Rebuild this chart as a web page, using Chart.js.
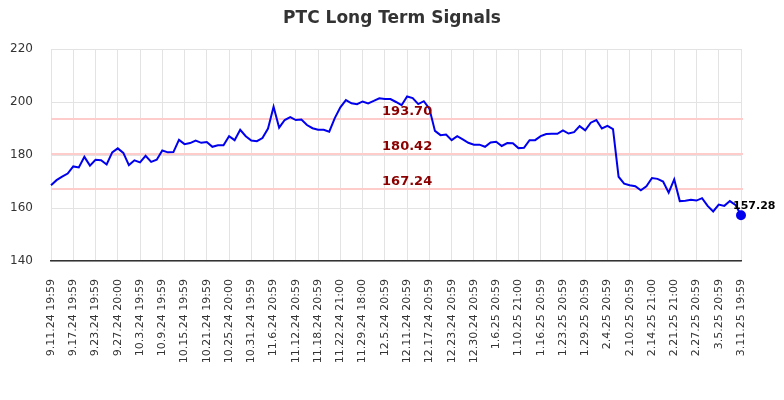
<!DOCTYPE html>
<html>
<head>
<meta charset="utf-8">
<script src="https://cdn.jsdelivr.net/npm/chart.js@4.4.1/dist/chart.umd.min.js"></script>
<style>
  html, body { margin:0; padding:0; background:#fff; }
  #wrap { width:784px; height:400px; }
</style>
</head>
<body>
<div id="wrap"><canvas id="chart" width="784" height="400"></canvas></div>
<script>
const dates = [
  '9.11.24 19:59','9.12.24 19:59','9.13.24 19:59','9.16.24 19:59','9.17.24 19:59','9.18.24 19:59','9.19.24 19:59','9.20.24 19:59',
  '9.23.24 19:59','9.24.24 19:59','9.25.24 19:59','9.26.24 19:59','9.27.24 20:00','9.30.24 19:59',
  '10.1.24 19:59','10.2.24 19:59','10.3.24 19:59','10.4.24 19:59','10.7.24 19:59','10.8.24 19:59','10.9.24 19:59','10.10.24 19:59',
  '10.11.24 19:59','10.14.24 19:59','10.15.24 19:59','10.16.24 19:59','10.17.24 19:59','10.18.24 19:59','10.21.24 19:59','10.22.24 19:59',
  '10.23.24 19:59','10.24.24 19:59','10.25.24 20:00','10.28.24 19:59','10.29.24 19:59','10.30.24 19:59','10.31.24 19:59',
  '11.1.24 19:59','11.4.24 20:59','11.5.24 20:59','11.6.24 20:59','11.7.24 20:59','11.8.24 20:59','11.11.24 20:59','11.12.24 20:59',
  '11.13.24 20:59','11.14.24 20:59','11.15.24 20:59','11.18.24 20:59','11.19.24 20:59','11.20.24 20:59','11.21.24 20:59','11.22.24 21:00',
  '11.25.24 20:59','11.26.24 20:59','11.27.24 20:59','11.29.24 18:00',
  '12.2.24 20:59','12.3.24 20:59','12.4.24 20:59','12.5.24 20:59','12.6.24 20:59','12.9.24 20:59','12.10.24 20:59','12.11.24 20:59',
  '12.12.24 20:59','12.13.24 20:59','12.16.24 20:59','12.17.24 20:59','12.18.24 20:59','12.19.24 20:59','12.20.24 20:59','12.23.24 20:59',
  '12.24.24 18:00','12.26.24 20:59','12.27.24 20:59','12.30.24 20:59','12.31.24 20:59',
  '1.2.25 20:59','1.3.25 20:59','1.6.25 20:59','1.7.25 20:59','1.8.25 20:59','1.9.25 20:59','1.10.25 21:00','1.13.25 20:59',
  '1.14.25 20:59','1.15.25 20:59','1.16.25 20:59','1.17.25 20:59','1.21.25 20:59','1.22.25 20:59','1.23.25 20:59','1.24.25 20:59',
  '1.27.25 20:59','1.28.25 20:59','1.29.25 20:59','1.30.25 20:59','1.31.25 20:59',
  '2.3.25 20:59','2.4.25 20:59','2.5.25 20:59','2.6.25 20:59','2.7.25 20:59','2.10.25 20:59','2.11.25 20:59','2.12.25 20:59',
  '2.13.25 20:59','2.14.25 21:00','2.18.25 20:59','2.19.25 20:59','2.20.25 20:59','2.21.25 21:00','2.24.25 20:59','2.25.25 20:59',
  '2.26.25 20:59','2.27.25 20:59','2.28.25 20:59',
  '3.3.25 20:59','3.4.25 20:59','3.5.25 20:59','3.6.25 20:59','3.7.25 20:59','3.10.25 19:59','3.11.25 19:59'
];

const prices = [
  168.6, 170.5, 171.8, 173.0, 175.7, 175.3, 179.3, 176.0, 178.2, 178.0,
  176.4, 181.0, 182.5, 180.8, 176.2, 178.0, 177.2, 179.7, 177.4, 178.2,
  181.7, 181.0, 181.1, 185.7, 184.1, 184.5, 185.4, 184.6, 184.9, 183.1,
  183.7, 183.7, 187.1, 185.6, 189.5, 187.1, 185.5, 185.2, 186.4, 190.0,
  198.2, 190.3, 193.2, 194.3, 193.2, 193.4, 191.3, 190.1, 189.5, 189.5,
  188.8, 193.9, 198.0, 200.7, 199.5, 199.2, 200.2, 199.5, 200.4, 201.4,
  201.1, 201.1, 200.0, 198.8, 202.1, 201.5, 199.2, 200.3, 197.5, 189.1,
  187.5, 187.7, 185.6, 187.1, 185.9, 184.6, 183.9, 183.9, 183.1, 184.7,
  185.0, 183.4, 184.5, 184.4, 182.6, 182.7, 185.6, 185.6, 187.1, 187.9,
  188.0, 188.0, 189.3, 188.1, 188.6, 190.9, 189.3, 192.2, 193.2, 190.0,
  191.0, 189.8, 171.8, 169.2, 168.6, 168.2, 166.7, 168.2, 171.3, 171.0,
  170.0, 165.8, 170.8, 162.6, 162.7, 163.1, 162.8, 163.7, 160.8, 158.7,
  161.3, 160.8, 162.6, 161.2, 157.28
];

const signalLevels = [193.70, 180.42, 167.24];
const yTicks = [140, 160, 180, 200, 220];
const labelEvery = 4;
const titleText = 'PTC Long Term Signals';

Chart.defaults.font.family = "'DejaVu Sans', sans-serif";

const lastIdx = prices.length - 1;

// title, signal lines and last-price label
const overlay = {
  id: 'overlay',
  beforeDatasetsDraw(chart){
    const { ctx, chartArea, scales:{ y } } = chart;
    ctx.save();
    ctx.strokeStyle = '#ffcccc';
    ctx.lineWidth = 2;
    signalLevels.forEach(v => {
      const py = Math.round(y.getPixelForValue(v));
      ctx.beginPath();
      ctx.moveTo(chartArea.left, py);
      ctx.lineTo(chartArea.right + 2, py);
      ctx.stroke();
    });
    ctx.restore();
  },
  afterDatasetsDraw(chart){
    const { ctx, scales:{ x, y } } = chart;
    ctx.save();
    ctx.font = "bold 13px 'DejaVu Sans'";
    ctx.fillStyle = '#8b0000';
    ctx.textAlign = 'center';
    ctx.textBaseline = 'bottom';
    const lx = x.getPixelForValue(64);
    signalLevels.forEach(v => {
      ctx.fillText(v.toFixed(2), lx, y.getPixelForValue(v) - 1);
    });

    const px = x.getPixelForValue(lastIdx), py = y.getPixelForValue(prices[lastIdx]);
    ctx.font = "bold 11px 'DejaVu Sans'";
    ctx.fillStyle = '#000';
    ctx.textAlign = 'left';
    ctx.textBaseline = 'bottom';
    ctx.fillText(prices[lastIdx].toFixed(2), px - 8, py - 4);

    ctx.font = "bold 17px 'DejaVu Sans'";
    ctx.fillStyle = '#333';
    ctx.textAlign = 'center';
    ctx.textBaseline = 'middle';
    ctx.fillText(titleText, chart.width / 2, 19);
    ctx.restore();
  }
};

new Chart(document.getElementById('chart').getContext('2d'), {
  type: 'line',
  data: {
    labels: dates,
    datasets: [{
      data: prices,
      borderColor: '#0000ee',
      backgroundColor: '#0000ee',
      borderWidth: 2,
      tension: 0,
      fill: false,
      pointRadius: prices.map((v, i) => i === lastIdx ? 4 : 0),
      pointHoverRadius: 0
    }]
  },
  options: {
    responsive: false,
    animation: false,
    layout: { padding: { top: 49, right: 43, left: 0, bottom: 0 } },
    plugins: { legend: { display: false }, title: { display: false }, tooltip: { enabled: false } },
    scales: {
      x: {
        grid: { color: '#e3e3e3', drawTicks: false },
        border: { color: '#333', width: 1.5 },
        ticks: {
          autoSkip: false,
          maxRotation: 90,
          minRotation: 90,
          padding: 18,
          color: '#333',
          font: { size: 11 },
          callback(val, i){ return i % labelEvery === 0 ? dates[i] : null; }
        },
        afterFit(scale){ scale.height = 139; }
      },
      y: {
        min: 140,
        max: 220,
        grid: { color: '#e3e3e3', drawTicks: false },
        border: { display: false },
        afterBuildTicks(scale){ scale.ticks = yTicks.map(v => ({ value: v })); },
        ticks: { padding: 18, color: '#333', font: { size: 12 } },
        afterFit(scale){ scale.width = 51; }
      }
    }
  },
  plugins: [overlay]
});
</script>
</body>
</html>
